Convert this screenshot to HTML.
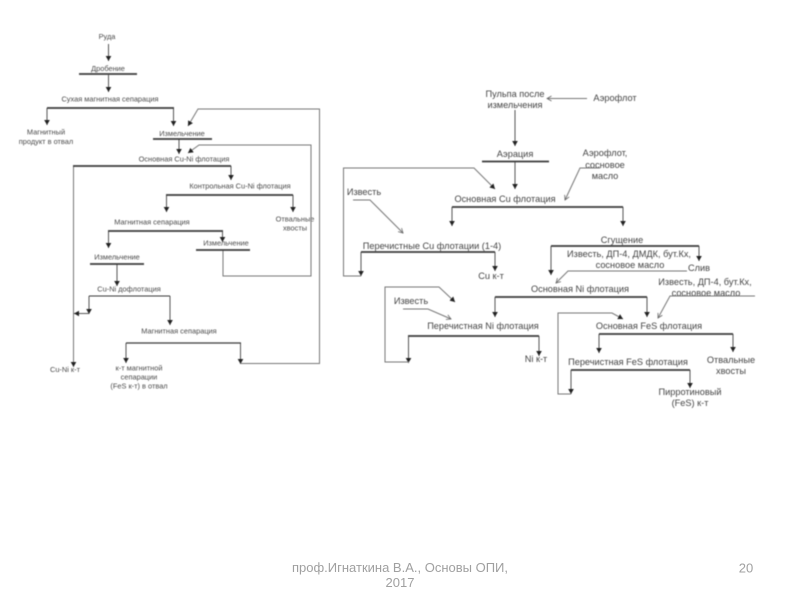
<!DOCTYPE html>
<html lang="ru">
<head>
<meta charset="utf-8">
<style>
html,body{margin:0;padding:0;background:#fff;width:800px;height:600px;overflow:hidden}
svg{position:absolute;left:0;top:0}
#d{filter:blur(0.5px)}
text{font-family:"Liberation Sans",sans-serif;text-anchor:middle}
.s text{font-size:7.4px;fill:#4a4a4a}
.b text{font-size:9.2px;fill:#444}
.l{fill:none;stroke:#777;stroke-width:1}
.t{fill:none;stroke:#555;stroke-width:1}
.k{fill:none;stroke:#3a3a3a;stroke-width:1.7}
.a{fill:#222}
.f text{font-size:13px;fill:#a0a0a0}
</style>
</head>
<body>
<svg id="d" width="800" height="600" viewBox="0 0 800 600">
<defs>
<marker id="ah" markerWidth="6" markerHeight="6" refX="5" refY="3" orient="auto" markerUnits="userSpaceOnUse"><path class="a" d="M0,0.2L5,3L0,5.8z"/></marker>
<marker id="oh" markerWidth="6" markerHeight="6" refX="5" refY="3" orient="auto" markerUnits="userSpaceOnUse"><path d="M0.5,0.5L5,3L0.5,5.5" fill="none" stroke="#666" stroke-width="0.8"/></marker>
</defs>

<!-- LEFT DIAGRAM -->
<g class="s">
<text x="107" y="39">Руда</text>
<text x="108" y="71">Дробение</text>
<text x="110" y="101.500">Сухая магнитная сепарация</text>
<text x="46" y="134.500">Магнитный</text>
<text x="46" y="144">продукт в отвал</text>
<text x="182" y="136">Измельчение</text>
<text x="184" y="161.500">Основная Cu-Ni флотация</text>
<text x="240" y="188.500">Контрольная Cu-Ni флотация</text>
<text x="152" y="224.500">Магнитная сепарация</text>
<text x="295" y="221.500">Отвальные</text>
<text x="295" y="230.500">хвосты</text>
<text x="226" y="245.500">Измельчение</text>
<text x="117" y="259.500">Измельчение</text>
<text x="129" y="291.500">Cu-Ni дофлотация</text>
<text x="179" y="333.500">Магнитная сепарация</text>
<text x="65" y="372">Cu-Ni к-т</text>
<text x="139" y="370.500">к-т магнитной</text>
<text x="139" y="379.500">сепарации</text>
<text x="139" y="388.500">(FeS к-т) в отвал</text>
</g>
<g class="t">
<path d="M108.500 44V61" marker-end="url(#ah)"/>
<path d="M108.500 75V92" marker-end="url(#ah)"/>
<path d="M47 108V125" marker-end="url(#ah)"/>
<path d="M173.500 108V126" marker-end="url(#ah)"/>
<path d="M179 139V154" marker-end="url(#ah)"/>
<path d="M231 166V180" marker-end="url(#ah)"/>
<path d="M166.500 195V212" marker-end="url(#ah)"/>
<path d="M293 195V212" marker-end="url(#ah)"/>
<path d="M108.500 231V248" marker-end="url(#ah)"/>
<path d="M222.500 231V242" marker-end="url(#ah)"/>
<path d="M117 264V286" marker-end="url(#ah)"/>
<path d="M89 296V314" marker-end="url(#ah)"/>
<path d="M170 296V325" marker-end="url(#ah)"/>
<path d="M126 343V363" marker-end="url(#ah)"/>
<path d="M240.500 343V364" marker-end="url(#ah)"/>
<path d="M89 313.500H74" marker-end="url(#ah)"/>
<path d="M73.500 166V367" stroke="#777" marker-end="url(#ah)"/>
<path class="l" d="M240.500 363.500H319.500V109H198L188 126" marker-end="url(#ah)"/>
<path class="l" d="M223 250V276H311V145H199L188 153" marker-end="url(#ah)"/>
</g>
<g class="k">
<path d="M79 74H137"/>
<path d="M47 108H174"/>
<path d="M153 139H212"/>
<path d="M73 166H231"/>
<path d="M166 195H293"/>
<path d="M108 231H223"/>
<path d="M196 250H250"/>
<path d="M90 264H144"/>
<path d="M89 296H170" stroke-width="1.100"/>
<path d="M126 343H241" stroke-width="1.200"/>
</g>

<!-- RIGHT DIAGRAM -->
<g class="b">
<text x="515" y="97">Пульпа после</text>
<text x="515" y="108">измельчения</text>
<text x="615" y="101">Аэрофлот</text>
<text x="515" y="157">Аэрация</text>
<text x="605" y="156">Аэрофлот,</text>
<text x="605" y="168">сосновое</text>
<text x="605" y="179">масло</text>
<text x="364" y="195">Известь</text>
<text x="505" y="202">Основная Cu флотация</text>
<text x="432" y="249">Перечистные Cu флотации (1-4)</text>
<text x="491" y="279">Cu к-т</text>
<text x="622" y="243">Сгущение</text>
<text x="629" y="257">Известь, ДП-4, ДМДК, бут.Кх,</text>
<text x="630" y="268">сосновое масло</text>
<text x="699" y="271">Слив</text>
<text x="705" y="285">Известь, ДП-4,  бут.Кх,</text>
<text x="706" y="296">сосновое масло</text>
<text x="580" y="292">Основная Ni флотация</text>
<text x="411" y="304">Известь</text>
<text x="483" y="329">Перечистная Ni флотация</text>
<text x="649" y="329">Основная FeS флотация</text>
<text x="536" y="362">Ni к-т</text>
<text x="628" y="365">Перечистная FeS флотация</text>
<text x="731" y="363">Отвальные</text>
<text x="731" y="374">хвосты</text>
<text x="690" y="395">Пирротиновый</text>
<text x="690" y="406">(FeS) к-т</text>
</g>
<g class="t">
<path d="M515 110V146" marker-end="url(#ah)"/>
<path d="M515 162V189" marker-end="url(#ah)"/>
<path d="M452 207V226" marker-end="url(#ah)"/>
<path d="M623 207V226" marker-end="url(#ah)"/>
<path d="M361 252V276" marker-end="url(#ah)"/>
<path d="M495 252V271" marker-end="url(#ah)"/>
<path d="M551 246V275" marker-end="url(#ah)"/>
<path d="M699 246V261" marker-end="url(#ah)"/>
<path d="M495 297V317" marker-end="url(#ah)"/>
<path d="M647 297V317" marker-end="url(#ah)"/>
<path d="M408.500 336V363" marker-end="url(#ah)"/>
<path d="M539 336V356" marker-end="url(#ah)"/>
<path d="M599 334V353" marker-end="url(#ah)"/>
<path d="M733 334V352" marker-end="url(#ah)"/>
<path d="M571 370V394" marker-end="url(#ah)"/>
<path d="M690 370V388" marker-end="url(#ah)"/>
<path class="l" d="M361 276H343.500V168H474L495 189" marker-end="url(#ah)"/>
<path class="l" d="M409 362H385V287H439L455 302" marker-end="url(#ah)"/>
<path class="l" d="M571 394H558V313H612L623 319" marker-end="url(#ah)"/>
</g>
<g class="l">
<path d="M587 98.500H547" marker-end="url(#oh)"/>
<path d="M600 168H580L565 200" marker-end="url(#oh)"/>
<path d="M353 200H370L403 233" marker-end="url(#oh)"/>
<path d="M403 309H428L451 319" marker-end="url(#oh)"/>
<path d="M687 271H568L556 283" marker-end="url(#oh)"/>
<path d="M755 296H670L658 318" marker-end="url(#oh)"/>
</g>
<g class="k">
<path d="M482 161.500H549"/>
<path d="M452 207H623"/>
<path d="M361 252H495"/>
<path d="M551 246H699"/>
<path d="M495 297H647"/>
<path d="M408 336H539"/>
<path d="M599 334H733"/>
<path d="M571 370H690"/>
</g>
</svg>

<svg width="800" height="600" viewBox="0 0 800 600">
<g class="f">
<text x="400" y="572">проф.Игнаткина В.А., Основы ОПИ,</text>
<text x="400" y="587">2017</text>
<text x="746" y="572.500">20</text>
</g>
</svg>
</body>
</html>
